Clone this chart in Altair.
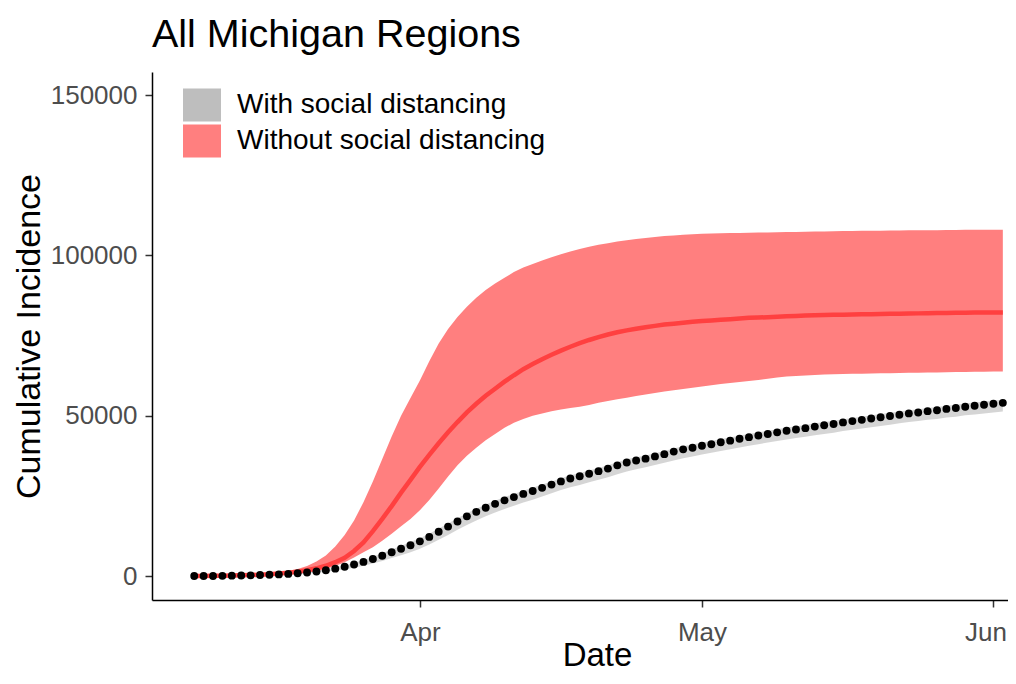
import altair as alt
import pandas as pd

# ---- data (daily, 2020-03-08 .. 2020-06-02) ----
dates = [(pd.Timestamp("2020-03-08") + pd.Timedelta(days=i)).strftime("%Y-%m-%dT00:00:00Z")
         for i in range(87)]

observed = [0, 0, 0, 50, 100, 150, 200, 300, 400, 500,
            650, 850, 1100, 1400, 1800, 2300, 2900, 3600, 4400, 5300,
            6300, 7400, 8500, 9600, 10800, 12200, 13800, 15400, 17000, 18600,
            20000, 21300, 22500, 23600, 24600, 25600, 26500, 27500, 28500, 29500,
            30400, 31100, 31900, 32700, 33500, 34500, 35400, 36000, 36600, 37300,
            38000, 38800, 39500, 40000, 40600, 41100, 41700, 42200, 42800, 43300,
            43800, 44300, 44800, 45300, 45700, 46100, 46600, 47000, 47400, 47900,
            48300, 48700, 49100, 49500, 49900, 50300, 50700, 51000, 51400, 51700,
            52100, 52400, 52800, 53100, 53400, 53700, 54000]

with_lo = [0, 0, 0, 40, 80, 120, 160, 230, 300, 380,
           480, 620, 800, 1000, 1300, 1650, 2100, 2600, 3200, 3900,
           4700, 5600, 6500, 7400, 8500, 9800, 11300, 12800, 14400, 15900,
           17300, 18600, 19800, 20900, 21900, 22900, 23800, 24800, 25800, 26800,
           27700, 28400, 29200, 30000, 30800, 31700, 32600, 33300, 33900, 34600,
           35300, 36000, 36700, 37300, 37900, 38400, 39000, 39500, 40100, 40600,
           41100, 41600, 42100, 42600, 43000, 43400, 43900, 44300, 44700, 45200,
           45600, 46000, 46400, 46800, 47200, 47600, 48000, 48300, 48700, 49000,
           49400, 49700, 50100, 50400, 50700, 51000, 51300]

with_hi = [0, 0, 0, 60, 120, 180, 250, 350, 470, 600,
           780, 1000, 1300, 1650, 2100, 2650, 3300, 4100, 5000, 6000,
           7100, 8300, 9400, 10600, 11800, 13200, 14800, 16400, 18000, 19600,
           21000, 22300, 23500, 24600, 25600, 26600, 27500, 28500, 29500, 30500,
           31400, 32100, 32900, 33700, 34500, 35500, 36400, 37000, 37600, 38300,
           39000, 39800, 40500, 41000, 41600, 42100, 42700, 43200, 43800, 44300,
           44800, 45300, 45800, 46300, 46700, 47100, 47600, 48000, 48400, 48900,
           49300, 49700, 50100, 50500, 50900, 51300, 51700, 52000, 52400, 52700,
           53100, 53400, 53800, 54100, 54400, 54700, 55000]

without_lo = [0, 0, 0, 50, 100, 150, 200, 300, 400, 500,
              650, 850, 1100, 1500, 2200, 3100, 4300, 5800, 7400, 9000,
              11000, 13200, 15500, 17800, 20500, 23700, 27300, 31000, 34500, 37500,
              40000, 42300, 44300, 46200, 47800, 49000, 50000, 50700, 51400, 51900,
              52400, 52800, 53300, 54000, 54600, 55100, 55600, 56100, 56600, 57100,
              57500, 57900, 58300, 58700, 59100, 59500, 59900, 60200, 60500, 60800,
              61100, 61500, 61900, 62200, 62400, 62550, 62700, 62800, 62900, 63000,
              63050, 63100, 63150, 63200, 63250, 63300, 63350, 63400, 63450, 63500,
              63550, 63600, 63650, 63700, 63700, 63750, 63750]

without_mid = [0, 0, 50, 100, 150, 200, 300, 400, 550, 750,
               1000, 1350, 1800, 2400, 3200, 4300, 5700, 7800, 10500, 14000,
               17800, 21800, 26000, 30000, 34000, 37800, 41400, 44800, 48000, 51000,
               53700, 56200, 58400, 60600, 62600, 64500, 66100, 67600, 69000, 70300,
               71500, 72600, 73600, 74500, 75300, 76000, 76600, 77100, 77600, 78000,
               78400, 78700, 79000, 79300, 79500, 79700, 79900, 80100, 80300, 80500,
               80600, 80700, 80850, 81000, 81100, 81200, 81300, 81400, 81450, 81500,
               81550, 81600, 81650, 81700, 81750, 81800, 81850, 81900, 81950, 82000,
               82050, 82100, 82100, 82150, 82150, 82200, 82200]

without_hi = [0, 50, 100, 200, 300, 400, 550, 700, 900, 1200,
              1600, 2200, 3100, 4500, 6400, 9200, 12800, 17300, 23000, 29500,
              36500, 43500, 50000, 55500, 61000, 67000, 72500, 77000, 80800, 84000,
              86800, 89200, 91200, 93000, 94800, 96200, 97300, 98400, 99400, 100300,
              101200, 102000, 102700, 103300, 103800, 104300, 104700, 105100, 105400, 105700,
              106000, 106200, 106400, 106550, 106700, 106800, 106900, 106950, 107000, 107050,
              107100, 107150, 107200, 107250, 107300, 107350, 107400, 107450, 107500, 107550,
              107600, 107650, 107700, 107700, 107750, 107750, 107800, 107800, 107850, 107850,
              107900, 107900, 107950, 107950, 108000, 108000, 108000]

scenarios = ["With social distancing", "Without social distancing"]
scenario_colors = ["#BEBEBE", "#FF7F7F"]
x_ticks = ["2020-04-01", "2020-05-01", "2020-06-01"]
y_ticks = [0, 50000, 100000, 150000]

df = pd.DataFrame({
    "date": dates,
    "observed": observed,
    "with_lo": with_lo,
    "with_hi": with_hi,
    "without_lo": without_lo,
    "without_mid": without_mid,
    "without_hi": without_hi,
})

FONT = "Liberation Sans"


def utc(s, h=0, m=0):
    y, mo, d = [int(p) for p in s.split("-")]
    return alt.DateTime(year=y, month=mo, date=d, hours=h, minutes=m, utc=True)


x_scale = alt.Scale(type="utc", domain=[utc("2020-03-03", 12, 14), utc("2020-06-02", 13, 12)])
y_scale = alt.Scale(domain=[-7484, 157173], nice=False, zero=False)

x_axis = alt.Axis(
    values=[utc(t) for t in x_ticks],
    labelExpr="utcFormat(datum.value, '%b')",
    title="Date",
    grid=False,
    tickSize=7, tickWidth=1.5, tickColor="#333333",
    domainColor="#000000", domainWidth=1.5,
    labelFontSize=26, labelColor="#4D4D4D", labelPadding=12, labelFont=FONT,
    labelOverlap=False, labelBound=False, labelFlush=False,
    labelOffset={"condition": {"test": "utcmonth(datum.value) == 5", "value": -8}, "value": 0},
    titleFontSize=33, titleFontWeight="normal", titleColor="#000000", titleFont=FONT,
    titleX=445, titleY=65, titleBaseline="alphabetic",
)
y_axis = alt.Axis(
    values=y_ticks,
    format="d",
    title="Cumulative Incidence",
    grid=False,
    tickSize=7, tickWidth=1.5, tickColor="#333333",
    domainColor="#000000", domainWidth=1.5,
    labelFontSize=26, labelColor="#4D4D4D", labelPadding=8, labelFont=FONT,
    titleFontSize=34, titleFontWeight="normal", titleColor="#000000", titleFont=FONT,
    titleX=-113, titleY=264, titleBaseline="alphabetic",
)

color_scale = alt.Scale(domain=scenarios, range=scenario_colors)
legend = alt.Legend(
    title=None,
    orient="none", legendX=31, legendY=14,
    symbolType="M-1,-0.87H1V0.87H-1Z", symbolSize=1444, symbolOpacity=1,
    symbolStrokeWidth=0,
    labelFontSize=28, labelFont=FONT, labelColor="#000000", labelOffset=16, labelLimit=0,
    rowPadding=0, padding=0,
)

base = alt.Chart(df)


def X():
    return alt.X("date:T", scale=x_scale, axis=x_axis, title="Date")


def Y(field):
    return alt.Y(field, scale=y_scale, axis=y_axis, title="Cumulative Incidence")


with_band = base.transform_calculate(scenario="'With social distancing'").mark_area(opacity=0.65).encode(
    x=X(),
    y=Y("with_lo:Q"),
    y2="with_hi:Q",
    color=alt.Color("scenario:N", scale=color_scale, legend=legend),
)

without_band = base.transform_calculate(scenario="'Without social distancing'").mark_area(opacity=1).encode(
    x=X(),
    y=Y("without_lo:Q"),
    y2="without_hi:Q",
    color=alt.Color("scenario:N", scale=color_scale, legend=legend),
)

without_line = base.mark_line(color="#FF4040", strokeWidth=4.5).encode(
    x=X(),
    y=Y("without_mid:Q"),
)

obs_points = base.mark_circle(color="#000000", size=62, opacity=1).encode(
    x=X(),
    y=Y("observed:Q"),
)

chart = alt.layer(with_band, without_band, without_line, obs_points).properties(
    width=856,
    height=528,
    autosize=alt.AutoSizeParams(type="none"),
    padding={"left": 144, "top": 64, "right": 0, "bottom": 72},
    title=alt.TitleParams(
        "All Michigan Regions", anchor="start", frame="group", offset=17,
        fontSize=39.5, fontWeight="normal", color="#000000", font=FONT,
    ),
).configure(font=FONT, view=alt.ViewConfig(strokeWidth=0))

chart.save("out.html", embed_options={"renderer": "svg", "actions": False})
